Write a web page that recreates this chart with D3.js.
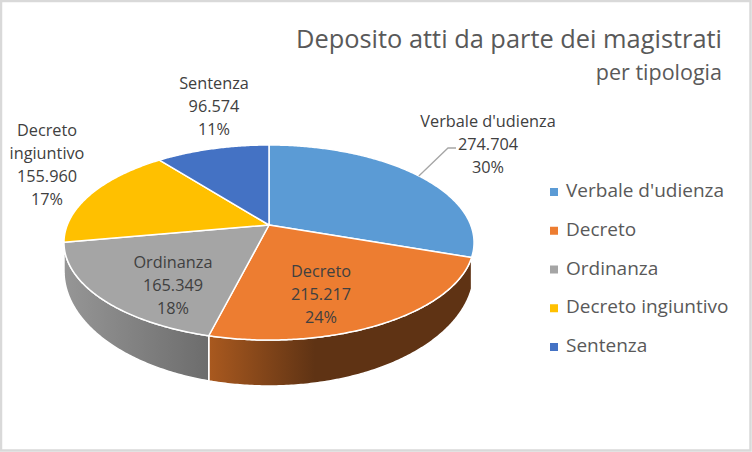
<!DOCTYPE html>
<html>
<head>
<meta charset="utf-8">
<script src="https://cdn.jsdelivr.net/npm/d3@7"></script>
<style>
body { margin: 0; background: #fff; }
text { font-family: "Open Sans", sans-serif; }
</style>
</head>
<body>
<script>
var categories = ["Verbale d'udienza", "Decreto", "Ordinanza", "Decreto ingiuntivo", "Sentenza"];
var values = [274704, 215217, 165349, 155960, 96574];
var colors = ["#5B9BD5", "#ED7D31", "#A5A5A5", "#FFC000", "#4472C4"];

var labelLines = [["Verbale d'udienza"], ["Decreto"], ["Ordinanza"], ["Decreto", "ingiuntivo"], ["Sentenza"]];
// where the first line of each data label sits
var labelX = [488, 321, 173, 47, 214];
var labelY = [127, 277, 268, 136, 89];

var width = 752, height = 452;

// pie tilt, excel draws it with some perspective so the apex is off centre
var cx = 269, cy = 225, rx = 201.7, ry = 94.4, k = 0.1795;
// bottom rim of the side wall
var bottomCy = 271, bottomRx = 205, bottomRy = 115;

var fmt = d3.formatLocale({ decimal: ",", thousands: ".", grouping: [3], currency: ["", "€"] }).format(",d");
var pct = d3.format(".0%");
var total = d3.sum(values);

function rim(a) {
    var w = 1 + k * Math.cos(a);
    return [cx + rx * Math.sin(a) / w, cy - ry * Math.cos(a) / w];
}
function lower(a) {
    var p = rim(a);
    var t = Math.max(-1, Math.min(1, (p[0] - cx) / bottomRx));
    return [p[0], bottomCy + bottomRy * Math.sqrt(1 - t * t)];
}
function arcAngles(a0, a1) {
    var n = Math.ceil((a1 - a0) / 0.01);
    return d3.range(n + 1).map(function(i) { return a0 + (a1 - a0) * i / n; });
}

var line = d3.line();
var pie = d3.pie().sort(null).value(function(d) { return d; });
var arcs = pie(values);

var svg = d3.select("body").append("svg").attr("width", width).attr("height", height)
    .style("display", "block");

svg.append("rect").attr("x", 1).attr("y", 1).attr("width", width - 2.5).attr("height", height - 2.5)
    .attr("fill", "#fff").attr("stroke", "#d9d9d9").attr("stroke-width", 2.5);

var defs = svg.append("defs");
function gradient(id, x1, x2, stops) {
    var g = defs.append("linearGradient").attr("id", id)
        .attr("gradientUnits", "userSpaceOnUse")
        .attr("x1", x1).attr("x2", x2).attr("y1", 0).attr("y2", 0);
    stops.forEach(function(s) {
        g.append("stop").attr("offset", s[0]).attr("stop-color", s[1]);
    });
}
gradient("sideOrange", 209, 474, [[0, "#A9591F"], [0.4, "#5F3314"], [1, "#5F3314"]]);
gradient("sideGray", 64, 210, [[0, "#969696"], [1, "#6C6C6C"]]);

// side wall, only the two front slices show it
var sides = [{ i: 1, fill: "url(#sideOrange)" }, { i: 2, fill: "url(#sideGray)" }];
svg.append("g").selectAll("path").data(sides).enter().append("path")
    .attr("d", function(s) {
        var angles = arcAngles(arcs[s.i].startAngle, arcs[s.i].endAngle);
        return line(angles.map(rim).concat(angles.slice().reverse().map(lower))) + "Z";
    })
    .attr("fill", function(s) { return s.fill; })
    .attr("stroke", "#fff").attr("stroke-width", 1.5).attr("stroke-linejoin", "round");

// top face
svg.append("g").selectAll("path").data(arcs).enter().append("path")
    .attr("d", function(d) {
        return line([[cx, cy]].concat(arcAngles(d.startAngle, d.endAngle).map(rim))) + "Z";
    })
    .attr("fill", function(d, i) { return colors[i]; })
    .attr("stroke", "#fff").attr("stroke-width", 1.5).attr("stroke-linejoin", "round");

// leader line of the first label
var p0 = rim(0.3056 * Math.PI);
svg.append("path")
    .attr("d", line([p0, [448, 148], [456, 148]]))
    .attr("fill", "none").attr("stroke", "#a6a6a6").attr("stroke-width", 1.3);

// data labels
var labels = svg.append("g").attr("font-size", 16.3).attr("fill", "#404040").attr("text-anchor", "middle");
categories.forEach(function(c, i) {
    var rows = labelLines[i].concat([fmt(values[i]), pct(values[i] / total)]);
    rows.forEach(function(r, j) {
        labels.append("text").attr("x", labelX[i]).attr("y", labelY[i] + j * 23).text(r);
    });
});

// legend
var legendY = d3.scalePoint().domain(categories).range([197, 352]);
var legend = svg.append("g").selectAll("g").data(categories).enter().append("g");
legend.append("rect").attr("x", 550).attr("y", function(d) { return legendY(d) - 9; })
    .attr("width", 8).attr("height", 8)
    .attr("fill", function(d, i) { return colors[i]; });
legend.append("text").attr("x", 566).attr("y", function(d) { return legendY(d); })
    .attr("font-size", 19).attr("fill", "#595959").text(function(d) { return d; });

// title
svg.append("text").attr("x", 722).attr("y", 48).attr("text-anchor", "end")
    .attr("font-size", 25.4).attr("fill", "#595959").text("Deposito atti da parte dei magistrati");
svg.append("text").attr("x", 722).attr("y", 80).attr("text-anchor", "end")
    .attr("font-size", 21.5).attr("fill", "#595959").text("per tipologia");
</script>
</body>
</html>
